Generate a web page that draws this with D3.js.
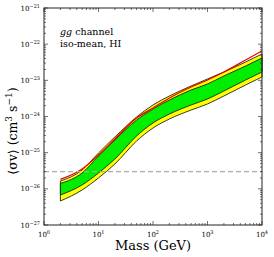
<!DOCTYPE html>
<html>
<head>
<meta charset="utf-8">
<script src="https://cdn.jsdelivr.net/npm/d3@7"></script>
<style>
  body { margin: 0; background: #fff; }
  text { font-family: "DejaVu Serif", "Liberation Serif", serif; fill: #000; }
</style>
</head>
<body>
<script>
var svgWidth = 274;
var svgHeight = 257;

var margin = { top: 8, right: 12, bottom: 32, left: 44 };
var chartWidth = svgWidth - margin.left - margin.right;
var chartHeight = svgHeight - margin.top - margin.bottom;

// masses (GeV)
var masses = [2, 5, 10, 20, 50, 100, 200, 500, 1000, 2000, 5000, 10000];
// expected limit bands, <sigma v> in cm^3 s^-1
var yellowHigh = [1.65e-26, 3.32e-26, 9.8e-26, 2.72e-25, 9.7e-25, 2.08e-24, 3.69e-24, 6.98e-24, 1.09e-23, 1.70e-23, 3.21e-23, 5.35e-23];
var yellowLow  = [4.61e-27, 9.3e-27, 2.0e-26, 4.86e-26, 2.10e-25, 4.81e-25, 8.53e-25, 1.51e-24, 2.22e-24, 3.69e-24, 7.43e-24, 1.24e-23];
var greenHigh  = [1.41e-26, 2.74e-26, 8.1e-26, 2.24e-25, 8.0e-25, 1.61e-24, 2.86e-24, 5.41e-24, 7.93e-24, 1.32e-23, 2.49e-23, 4.15e-23];
var greenLow   = [6.76e-27, 1.28e-26, 2.74e-26, 6.68e-26, 2.89e-25, 6.62e-25, 1.17e-24, 2.08e-24, 3.05e-24, 5.07e-24, 1.02e-23, 1.70e-23];
// observed limit
var observed   = [1.82e-26, 3.54e-26, 8.63e-26, 2.39e-25, 9.1e-25, 1.72e-24, 3.25e-24, 6.55e-24, 1.02e-23, 1.70e-23, 3.65e-23, 6.47e-23];
var thermal = 3e-26;

var xTicks = [1, 10, 100, 1000, 10000];
var xTickExp = ["0", "1", "2", "3", "4"];
var yTicks = [1e-27, 1e-26, 1e-25, 1e-24, 1e-23, 1e-22, 1e-21];
var yTickExp = ["\u221227", "\u221226", "\u221225", "\u221224", "\u221223", "\u221222", "\u221221"];

var svg = d3.select("body").append("svg")
  .attr("width", svgWidth)
  .attr("height", svgHeight);

var chartGroup = svg.append("g")
  .attr("transform", `translate(${margin.left}, ${margin.top})`);

var xScale = d3.scaleLog().domain([1, 10000]).range([0, chartWidth]);
var yScale = d3.scaleLog().domain([1e-27, 1e-21]).range([chartHeight, 0]);

function band(low, high) {
  return d3.area()
    .curve(d3.curveMonotoneX)
    .x((d, i) => xScale(masses[i]))
    .y0((d, i) => yScale(low[i]))
    .y1((d, i) => yScale(high[i]))(masses);
}

// yellow band, then green band on top
chartGroup.append("path")
  .attr("d", band(yellowLow, yellowHigh) + "Z")
  .attr("fill", "#ffff00")
  .attr("stroke", "#222")
  .attr("stroke-width", 0.9);

chartGroup.append("path")
  .attr("d", band(greenLow, greenHigh) + "Z")
  .attr("fill", "#00ee00")
  .attr("stroke", "#222")
  .attr("stroke-width", 0.9);

chartGroup.append("path")
  .datum(observed)
  .attr("d", d3.line().curve(d3.curveMonotoneX).x((d, i) => xScale(masses[i])).y(d => yScale(d)))
  .attr("fill", "none")
  .attr("stroke", "#ee0000")
  .attr("stroke-width", 1.2);

// thermal relic line
chartGroup.append("line")
  .attr("x1", 0).attr("x2", chartWidth)
  .attr("y1", yScale(thermal)).attr("y2", yScale(thermal))
  .attr("stroke", "#aaaaaa")
  .attr("stroke-width", 1.2)
  .attr("stroke-dasharray", "5,3");

// minor tick positions
var xMinor = [], yMinor = [];
for (var e = 0; e < 4; e++) for (var k = 2; k < 10; k++) xMinor.push(k * Math.pow(10, e));
for (var e = -27; e < -21; e++) for (var k = 2; k < 10; k++) yMinor.push(k * Math.pow(10, e));

var tickColor = "#333";
function ticksX(vals, len) {
  vals.forEach(v => {
    var x = xScale(v);
    chartGroup.append("line").attr("x1", x).attr("x2", x).attr("y1", chartHeight).attr("y2", chartHeight - len).attr("stroke", tickColor).attr("stroke-width", 0.7);
    chartGroup.append("line").attr("x1", x).attr("x2", x).attr("y1", 0).attr("y2", len).attr("stroke", tickColor).attr("stroke-width", 0.7);
  });
}
function ticksY(vals, len) {
  vals.forEach(v => {
    var y = yScale(v);
    chartGroup.append("line").attr("x1", 0).attr("x2", len).attr("y1", y).attr("y2", y).attr("stroke", tickColor).attr("stroke-width", 0.7);
    chartGroup.append("line").attr("x1", chartWidth).attr("x2", chartWidth - len).attr("y1", y).attr("y2", y).attr("stroke", tickColor).attr("stroke-width", 0.7);
  });
}
ticksX(xTicks, 4);
ticksX(xMinor, 2);
ticksY(yTicks, 4);
ticksY(yMinor, 2);

// frame
chartGroup.append("rect")
  .attr("width", chartWidth).attr("height", chartHeight)
  .attr("fill", "none").attr("stroke", "#222").attr("stroke-width", 1);

// tick labels
xTicks.forEach((v, i) => {
  var t = chartGroup.append("text")
    .attr("x", xScale(v))
    .attr("y", chartHeight + 12)
    .attr("text-anchor", "middle")
    .style("font-size", "7px");
  t.append("tspan").text("10");
  t.append("tspan").attr("dy", -3).style("font-size", "5px").text(xTickExp[i]);
});
yTicks.forEach((v, i) => {
  var t = chartGroup.append("text")
    .attr("x", -4)
    .attr("y", yScale(v) + 2.5)
    .attr("text-anchor", "end")
    .style("font-size", "7px");
  t.append("tspan").text("10");
  t.append("tspan").attr("dy", -3).style("font-size", "5px").text(yTickExp[i]);
});

// axis labels
svg.append("text")
  .attr("x", margin.left + chartWidth / 2)
  .attr("y", 250)
  .attr("text-anchor", "middle")
  .style("font-size", "13px")
  .text("Mass (GeV)");

var yl = svg.append("text")
  .attr("transform", "translate(17, 131) rotate(-90)")
  .attr("text-anchor", "middle")
  .style("font-size", "12.5px");
yl.append("tspan").text("\u27E8\u03C3v\u27E9 (cm");
yl.append("tspan").attr("dy", -5).style("font-size", "9px").text("3");
yl.append("tspan").attr("dy", 5).text(" s");
yl.append("tspan").attr("dy", -5).style("font-size", "9px").text("\u22121");
yl.append("tspan").attr("dy", 5).text(")");

// annotation
var a1 = svg.append("text").attr("x", 60).attr("y", 35).style("font-size", "9.5px");
a1.append("tspan").style("font-style", "italic").text("gg");
a1.append("tspan").text(" channel");
svg.append("text").attr("x", 60).attr("y", 46.5).style("font-size", "9.5px").text("iso-mean, HI");
</script>
</body>
</html>
